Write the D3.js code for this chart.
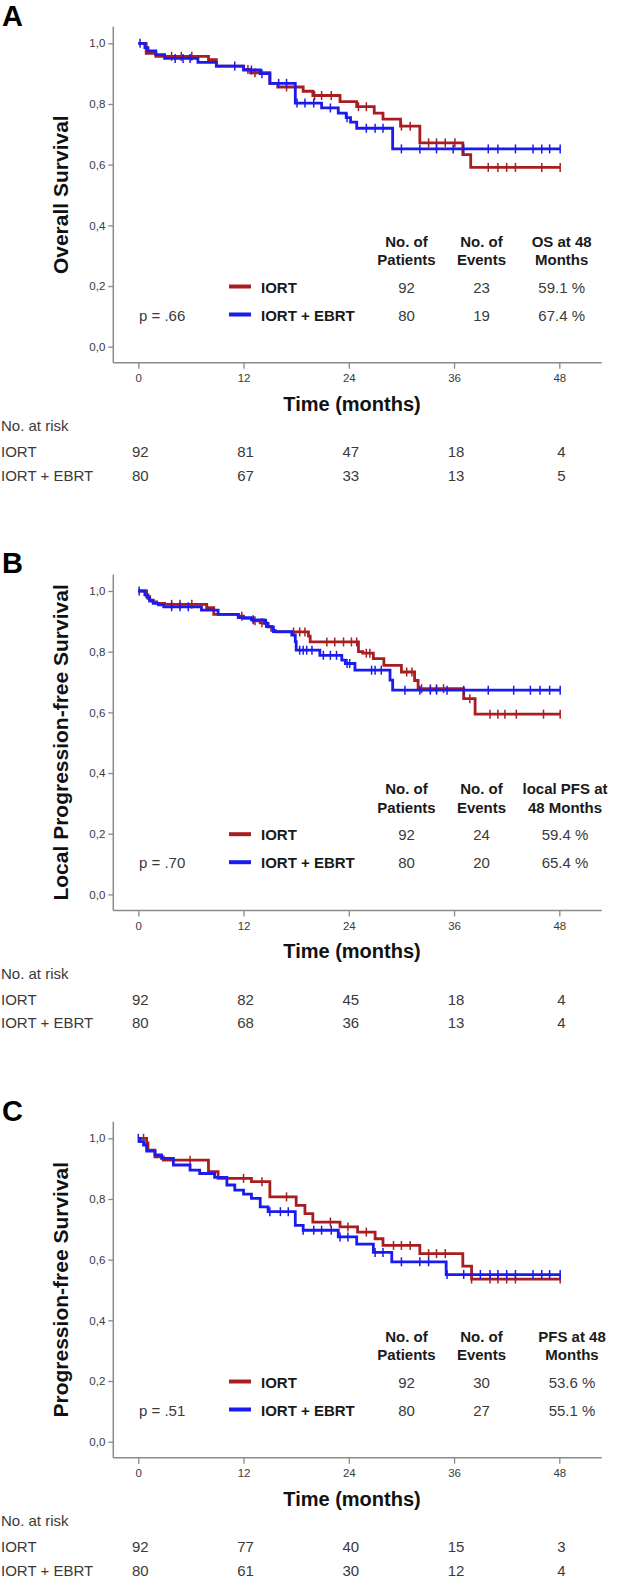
<!DOCTYPE html>
<html><head><meta charset="utf-8">
<script src="https://cdn.jsdelivr.net/npm/d3@7"></script>
<style>body{margin:0;background:#fff}svg{display:block}</style>
</head><body>
<script>
// ---------- data ----------
const timeTicks = [0, 12, 24, 36, 48];
const survTicks = [0, 0.2, 0.4, 0.6, 0.8, 1.0];
const panelLetters = ["A", "B", "C"];
const yTitles = ["Overall Survival", "Local Progression-free Survival", "Progression-free Survival"];
const groups = ["IORT", "IORT + EBRT"];
const headerPatients = ["No. of", "Patients"];
const headerEvents = ["No. of", "Events"];
const headerRate = [["OS at 48", "Months"], ["local PFS at", "48 Months"], ["PFS at 48", "Months"]];
const nPatients = [[92, 80], [92, 80], [92, 80]];
const nEvents = [[23, 19], [24, 20], [30, 27]];
const rate48 = [["59.1 %", "67.4 %"], ["59.4 %", "65.4 %"], ["53.6 %", "55.1 %"]];
const pValues = ["p = .66", "p = .70", "p = .51"];
const atRiskIort = [[92, 81, 47, 18, 4], [92, 82, 45, 18, 4], [92, 77, 40, 15, 3]];
const atRiskEbrt = [[80, 67, 33, 13, 5], [80, 68, 36, 13, 4], [80, 61, 30, 12, 4]];

// Kaplan-Meier steps: [time (months), survival after the event]
const osIortSteps = [[0.9,0.967],[2.0,0.957],[8.0,0.946],[8.9,0.925],[12.0,0.914],[12.8,0.903],[15.0,0.868],[15.9,0.856],[18.8,0.842],[19.9,0.828],[23.0,0.808],[24.9,0.791],[26.9,0.770],[27.9,0.750],[29.9,0.727],[32.1,0.672],[37.0,0.633],[37.9,0.591]];
const osIortCensor = [3.8,4.9,6.1,12.5,13.3,16.9,20.1,20.9,22.0,25.1,26.0,30.0,31.0,33.1,34.0,35.0,36.1,39.9,41.0,42.0,43.0,46.0,48.1];
const osEbrtSteps = [[0.75,0.986],[1.1,0.975],[2.0,0.963],[3.0,0.950],[6.8,0.937],[8.9,0.925],[12.0,0.912],[13.9,0.900],[15.0,0.868],[17.9,0.803],[20.9,0.787],[22.8,0.770],[23.7,0.755],[24.2,0.740],[24.9,0.720],[29.0,0.652]];
const osEbrtCensor = [0.2,4.2,5.1,5.9,11.0,12.9,14.1,16.0,16.9,18.1,19.0,20.0,21.9,23.8,26.0,27.0,27.9,30.0,32.1,34.0,35.9,37.1,39.9,41.0,43.0,45.0,46.0,46.9,48.1];

const lpfsIortSteps = [[0.95,0.981],[1.3,0.970],[1.7,0.964],[2.1,0.959],[3.0,0.956],[7.8,0.945],[8.6,0.923],[11.4,0.917],[12.0,0.910],[13.1,0.902],[13.9,0.895],[14.6,0.883],[15.2,0.870],[15.6,0.865],[19.4,0.851],[19.6,0.832],[25.1,0.800],[25.6,0.795],[26.8,0.777],[28.0,0.755],[30.0,0.733],[31.5,0.705],[31.9,0.678],[37.1,0.645],[38.4,0.594]];
const lpfsIortCensor = [3.8,4.75,6.1,11.8,13.3,14.1,17.7,18.4,19.0,21.5,22.4,23.4,24.3,24.9,26.0,26.4,30.6,31.2,32.3,33.3,34.0,34.8,37.8,40.1,41.0,41.8,43.1,46.2,48.1];
const lpfsEbrtSteps = [[0.75,0.987],[1.1,0.976],[1.3,0.967],[1.7,0.959],[2.3,0.954],[2.9,0.948],[7.2,0.937],[9.1,0.923],[11.4,0.912],[12.9,0.905],[14.4,0.893],[14.8,0.882],[15.4,0.866],[17.5,0.855],[17.9,0.833],[18.0,0.805],[20.7,0.788],[23.2,0.772],[23.6,0.761],[24.7,0.739],[28.7,0.706],[29.0,0.673]];
const lpfsEbrtCensor = [0.1,3.8,4.75,5.7,13.1,14.6,18.4,18.8,19.2,19.8,21.1,21.9,22.6,23.8,24.1,26.6,27.0,27.7,30.4,32.1,33.3,34.0,35.2,37.1,39.9,42.8,44.7,45.8,46.9,48.1];

const pfsIortSteps = [[0.95,0.985],[1.1,0.961],[1.9,0.939],[2.85,0.928],[8.0,0.890],[9.1,0.868],[12.9,0.857],[15.0,0.807],[18.0,0.779],[19.0,0.752],[19.9,0.724],[23.0,0.708],[25.0,0.691],[27.0,0.669],[27.9,0.647],[32.1,0.620],[37.0,0.579],[38.0,0.536]];
const pfsIortCensor = [0.6,5.9,12.0,14.1,16.9,21.9,23.9,26.0,29.1,30.0,31.0,33.1,34.0,35.0,38.0,40.1,41.0,42.0,43.0,48.1];
const pfsEbrtSteps = [[0.2,0.989],[0.6,0.978],[0.95,0.958],[1.9,0.945],[2.65,0.934],[4.0,0.912],[5.9,0.895],[7.0,0.884],[8.7,0.871],[10.1,0.846],[11.0,0.829],[12.0,0.816],[12.9,0.802],[13.9,0.774],[14.8,0.758],[17.9,0.713],[18.8,0.697],[22.8,0.675],[24.9,0.651],[26.8,0.624],[28.9,0.593],[35.1,0.551]];
const pfsEbrtCensor = [0.0,15.0,16.2,17.1,18.8,20.0,20.9,22.0,23.0,23.9,27.0,27.9,30.0,32.1,33.1,35.2,37.1,39.0,40.1,41.0,42.0,43.0,45.0,46.0,46.9,48.1];

const iortSteps = [osIortSteps, lpfsIortSteps, pfsIortSteps];
const iortCensor = [osIortCensor, lpfsIortCensor, pfsIortCensor];
const ebrtSteps = [osEbrtSteps, lpfsEbrtSteps, pfsEbrtSteps];
const ebrtCensor = [osEbrtCensor, lpfsEbrtCensor, pfsEbrtCensor];

// ---------- layout ----------
const W = 619, H = 1587;
const FONT = "'Liberation Sans', Arial, sans-serif";
const RED = "#a81e20", BLUE = "#1b1bf0";
const AXIS = "#8a8a8a", TXT = "#3a3a3a";
const panelOffsets = [0, 547.7, 1095];

const svg = d3.select("body").append("svg").attr("width", W).attr("height", H)
  .style("font-family", FONT);

const x = d3.scaleLinear().domain([0, 48]).range([138.3, 559.3]);
const y = d3.scaleLinear().domain([0, 1]).range([346.7, 43.3]);
const axisLeftX = 113.3, axisBottomY = 362.7, axisTopY = 26.7, axisRightX = 601.7;

function survAt(steps, t) {
  let s = 1;
  for (const [tt, ss] of steps) { if (tt <= t) s = ss; }
  return s;
}

const colX = [406.5, 481.5, [561.7, 565, 572]];

panelLetters.forEach((letter, i) => {
  const g = svg.append("g").attr("transform", `translate(0,${panelOffsets[i]})`);

  g.append("text").attr("x", 2).attr("y", 25.5).text(letter)
    .attr("font-size", 29).attr("font-weight", "bold").attr("fill", "#000");

  // axes lines
  g.append("line").attr("x1", axisLeftX).attr("x2", axisLeftX).attr("y1", axisTopY).attr("y2", axisBottomY)
    .attr("stroke", AXIS).attr("stroke-width", 1.5);
  g.append("line").attr("x1", axisLeftX).attr("x2", axisRightX).attr("y1", axisBottomY).attr("y2", axisBottomY)
    .attr("stroke", AXIS).attr("stroke-width", 1.5);

  const yAxis = d3.axisLeft(y).tickValues(survTicks)
    .tickFormat(d => d3.format(".1f")(d).replace(".", ",")).tickSize(5).tickPadding(3);
  const ya = g.append("g").attr("transform", `translate(${axisLeftX},0)`).call(yAxis);
  ya.select(".domain").remove();
  ya.selectAll("line").attr("stroke", AXIS).attr("stroke-width", 1.3);
  ya.selectAll("text").attr("font-size", 11.5).attr("fill", TXT).attr("font-family", FONT);

  const xAxis = d3.axisBottom(x).tickValues(timeTicks).tickSize(6).tickPadding(5);
  const xa = g.append("g").attr("transform", `translate(0,${axisBottomY})`).call(xAxis);
  xa.select(".domain").remove();
  xa.selectAll("line").attr("stroke", AXIS).attr("stroke-width", 1.3);
  xa.selectAll("text").attr("font-size", 11.5).attr("fill", TXT).attr("font-family", FONT);

  // titles
  g.append("text").attr("transform", `translate(67.5,${(axisTopY + axisBottomY) / 2}) rotate(-90)`)
    .attr("text-anchor", "middle").attr("font-size", 21).attr("font-weight", "bold").attr("fill", "#111")
    .text(yTitles[i]);
  g.append("text").attr("x", 352).attr("y", 410.5).attr("text-anchor", "middle")
    .attr("font-size", 20).attr("font-weight", "bold").attr("fill", "#111").text("Time (months)");

  // curves
  const line = d3.line().x(d => x(d[0])).y(d => y(d[1])).curve(d3.curveStepAfter);
  const series = [
    { steps: iortSteps[i], censor: iortCensor[i], color: RED },
    { steps: ebrtSteps[i], censor: ebrtCensor[i], color: BLUE }
  ];
  series.forEach(sr => {
    const end = d3.max(sr.censor);
    const pts = [[0, 1], ...sr.steps, [end, sr.steps[sr.steps.length - 1][1]]];
    g.append("path").datum(pts).attr("d", line).attr("fill", "none")
      .attr("stroke", sr.color).attr("stroke-width", 2.8).attr("stroke-linejoin", "miter");
    g.selectAll(null).data(sr.censor).enter().append("line")
      .attr("x1", d => x(d)).attr("x2", d => x(d))
      .attr("y1", d => y(survAt(sr.steps, d)) - 4.5).attr("y2", d => y(survAt(sr.steps, d)) + 4.5)
      .attr("stroke", sr.color).attr("stroke-width", 1.5);
  });

  // legend table
  const rateX = colX[2][i];
  [[colX[0], headerPatients], [colX[1], headerEvents], [rateX, headerRate[i]]].forEach(([cx, lines]) => {
    lines.forEach((t, k) => {
      g.append("text").attr("x", cx).attr("y", 246.5 + k * 18.7).attr("text-anchor", "middle")
        .attr("font-size", 15).attr("font-weight", "bold").attr("fill", "#1a1a1a").text(t);
    });
  });
  const rowY = [292.5, 320.5];
  groups.forEach((grp, k) => {
    g.append("line").attr("x1", 229).attr("x2", 251).attr("y1", rowY[k] - 6).attr("y2", rowY[k] - 6)
      .attr("stroke", k === 0 ? RED : BLUE).attr("stroke-width", 4);
    g.append("text").attr("x", 261).attr("y", rowY[k]).attr("font-size", 15).attr("font-weight", "bold")
      .attr("fill", "#1a1a1a").text(grp);
    g.append("text").attr("x", colX[0]).attr("y", rowY[k]).attr("text-anchor", "middle")
      .attr("font-size", 15).attr("fill", TXT).text(nPatients[i][k]);
    g.append("text").attr("x", colX[1]).attr("y", rowY[k]).attr("text-anchor", "middle")
      .attr("font-size", 15).attr("fill", TXT).text(nEvents[i][k]);
    g.append("text").attr("x", rateX).attr("y", rowY[k]).attr("text-anchor", "middle")
      .attr("font-size", 15).attr("fill", TXT).text(rate48[i][k]);
  });
  g.append("text").attr("x", 139).attr("y", rowY[1]).attr("font-size", 15).attr("fill", TXT).text(pValues[i]);

  // number at risk
  g.append("text").attr("x", 1).attr("y", 431).attr("font-size", 15).attr("fill", TXT).text("No. at risk");
  [[groups[0], atRiskIort[i], 457], [groups[1], atRiskEbrt[i], 480.5]].forEach(([lab, vals, yy]) => {
    g.append("text").attr("x", 1).attr("y", yy).attr("font-size", 15).attr("fill", TXT).text(lab);
    g.selectAll(null).data(vals).enter().append("text")
      .attr("x", (d, j) => x(timeTicks[j]) + 2).attr("y", yy).attr("text-anchor", "middle")
      .attr("font-size", 15).attr("fill", TXT).text(d => d);
  });
});
</script>
</body></html>
